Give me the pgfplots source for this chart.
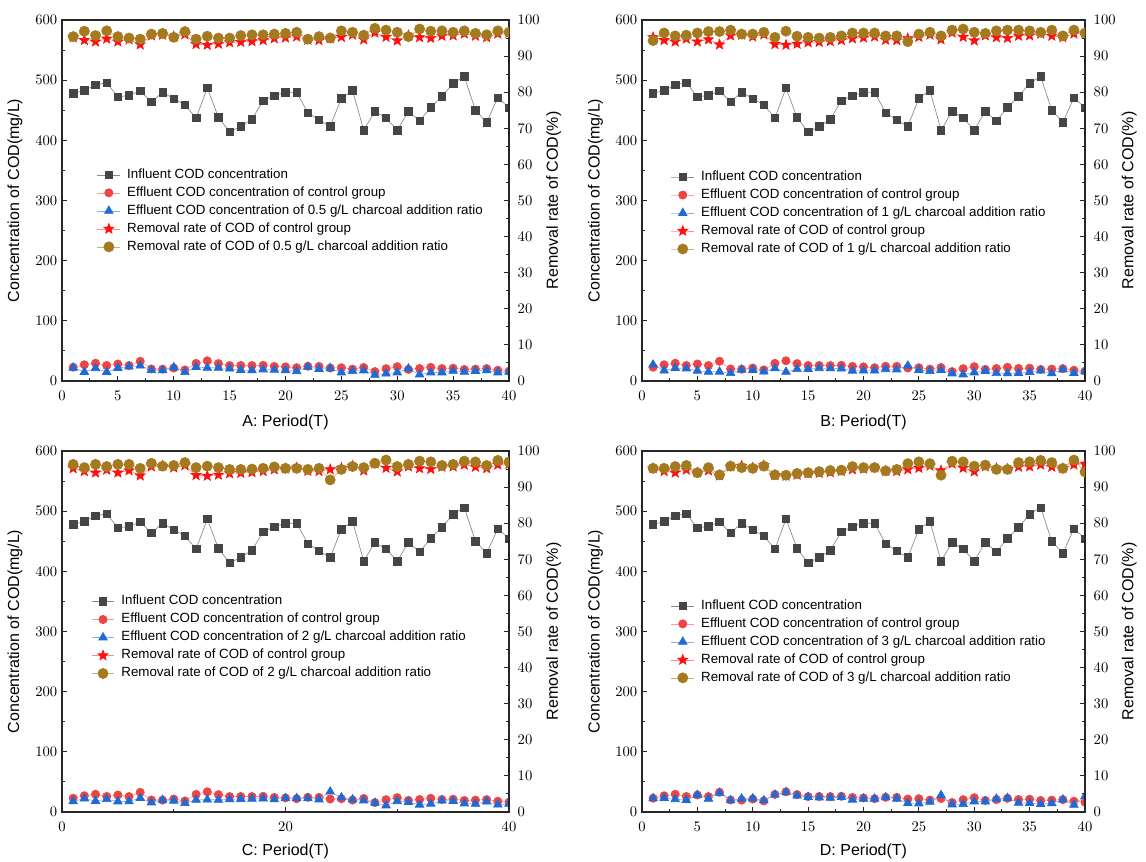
\documentclass[border=0pt]{standalone}
\usepackage{fontspec}
\setmainfont{Liberation Sans}
\usepackage{pgfplots}
\usepackage{pgfplotstable}
\pgfplotsset{compat=1.18}

% filled five-pointed star marker
\pgfdeclareplotmark{fstar}{%
  \pgfpathmoveto{\pgfpointpolar{90}{\pgfplotmarksize}}%
  \pgfpathlineto{\pgfpointpolar{126}{0.42\pgfplotmarksize}}%
  \pgfpathlineto{\pgfpointpolar{162}{\pgfplotmarksize}}%
  \pgfpathlineto{\pgfpointpolar{198}{0.42\pgfplotmarksize}}%
  \pgfpathlineto{\pgfpointpolar{234}{\pgfplotmarksize}}%
  \pgfpathlineto{\pgfpointpolar{270}{0.42\pgfplotmarksize}}%
  \pgfpathlineto{\pgfpointpolar{306}{\pgfplotmarksize}}%
  \pgfpathlineto{\pgfpointpolar{342}{0.42\pgfplotmarksize}}%
  \pgfpathlineto{\pgfpointpolar{18}{\pgfplotmarksize}}%
  \pgfpathlineto{\pgfpointpolar{54}{0.42\pgfplotmarksize}}%
  \pgfpathclose
  \pgfusepathqfillstroke
}

\definecolor{infmark}{HTML}{454545}
\definecolor{infline}{HTML}{8A8A8A}
\definecolor{ctlred}{HTML}{EE4444}
\definecolor{ctlredline}{HTML}{F4A0A0}
\definecolor{chblue}{HTML}{1F6AD4}
\definecolor{chblueline}{HTML}{8AB0E8}
\definecolor{starred}{HTML}{FF1010}
\definecolor{starline}{HTML}{FF8A8A}
\definecolor{chbrown}{HTML}{A57A1E}
\definecolor{chbrownline}{HTML}{CDB070}

% x: period, inf: influent COD, effc/remc: control group,
% effA..effD / remA..remD: 0.5, 1, 2 and 3 g/L charcoal addition
\pgfplotstableread{
x  inf  effc  remc  effA  remA  effB  remB  effC  remC  effD  remD
1  478  22.9  95.2  22.0  95.4  27.2  94.3  17.7  96.3  22.9  95.2
2  483  27.0  94.4  15.0  96.9  17.4  96.4  22.2  95.4  23.2  95.2
3  492  29.5  94.0  21.2  95.7  21.6  95.6  18.2  96.3  21.2  95.7
4  496  25.8  94.8  14.9  97.0  20.8  95.8  21.3  95.7  19.8  96.0
5  472  28.3  94.0  21.7  95.4  17.0  96.4  17.5  96.3  28.3  94.0
6  475  25.7  94.6  23.8  95.0  15.2  96.8  17.6  96.3  21.9  95.4
7  482  32.8  93.2  25.5  94.7  15.4  96.8  23.1  95.2  31.8  93.4
8  464  20.0  95.7  18.1  96.1  13.0  97.2  15.8  96.6  19.5  95.8
9  480  19.7  95.9  17.8  96.3  18.7  96.1  20.2  95.8  22.1  95.4
10 469  21.6  95.4  22.5  95.2  18.3  96.1  18.8  96.0  22.5  95.2
11 459  18.4  96.0  14.7  96.8  15.6  96.6  14.7  96.8  19.3  95.8
12 437  29.3  93.3  23.2  94.7  21.0  95.2  20.1  95.4  28.8  93.4
13 487  33.6  93.1  21.9  95.5  15.1  96.9  20.5  95.8  32.6  93.3
14 438  28.9  93.4  21.9  95.0  19.7  95.5  20.1  95.4  27.2  93.8
15 414  25.7  93.8  20.7  95.0  19.9  95.2  21.1  94.9  24.8  94.0
16 423  25.8  93.9  18.2  95.7  21.2  95.0  21.6  94.9  24.1  94.3
17 435  25.7  94.1  17.8  95.9  20.9  95.2  21.8  95.0  23.5  94.6
18 466  26.1  94.4  19.1  95.9  20.5  95.6  22.4  95.2  24.7  94.7
19 474  24.2  94.9  18.5  96.1  17.1  96.4  20.9  95.6  20.4  95.7
20 480  23.5  95.1  17.8  96.3  17.3  96.4  23.0  95.2  22.1  95.4
21 480  22.1  95.4  16.3  96.6  17.3  96.4  23.0  95.2  22.1  95.4
22 446  24.5  94.5  23.6  94.7  19.6  95.6  22.7  94.9  24.5  94.5
23 434  24.3  94.4  20.0  95.4  19.1  95.6  20.8  95.2  22.1  94.9
24 423  21.6  94.9  21.2  95.0  25.4  94.0  33.8  92.0  14.8  96.5
25 470  22.1  95.3  14.1  97.0  18.3  96.1  24.0  94.9  14.1  97.0
26 483  19.8  95.9  16.4  96.6  16.4  96.6  20.8  95.7  16.9  96.5
27 417  22.5  94.6  17.5  95.8  18.3  95.6  19.2  95.4  27.9  93.3
28 448  15.7  96.5  10.3  97.7  12.5  97.2  15.2  96.6  12.5  97.2
29 437  20.5  95.3  12.2  97.2  10.9  97.5  10.9  97.5  13.1  97.0
30 417  23.8  94.3  14.2  96.6  14.2  96.6  17.9  95.7  17.5  95.8
31 448  19.3  95.7  20.6  95.4  16.6  96.3  16.6  96.3  17.5  96.1
32 432  20.7  95.2  10.8  97.5  13.0  97.0  12.1  97.2  22.0  94.9
33 455  22.8  95.0  14.1  96.9  12.7  97.2  13.7  97.0  23.2  94.9
34 473  20.8  95.6  14.2  97.0  13.2  97.2  18.9  96.0  15.1  96.8
35 495  21.3  95.7  16.8  96.6  14.9  97.0  18.3  96.3  14.9  97.0
36 506  19.2  96.2  15.2  97.0  17.2  96.6  14.2  97.2  13.2  97.4
37 450  19.8  95.6  16.7  96.3  12.6  97.2  13.5  97.0  14.4  96.8
38 430  20.6  95.2  17.6  95.9  18.9  95.6  17.2  96.0  20.6  95.2
39 471  17.9  96.2  14.1  97.0  13.2  97.2  12.2  97.4  11.8  97.5
40 454  16.3  96.4  15.4  96.6  16.3  96.4  13.6  97.0  26.3  94.2
}\datatab

\pgfplotsset{
  influent/.style={infline, line width=0.5pt, mark=square*, mark size=2.8pt,
    mark options={draw=infmark, fill=infmark, solid}},
  effctl/.style={ctlredline, line width=0.5pt, mark=*, mark size=3.1pt,
    mark options={draw=ctlred, fill=ctlred, solid}},
  effch/.style={chblueline, line width=0.5pt, mark=triangle*, mark size=3.7pt,
    mark options={draw=chblue, fill=chblue, solid}},
  remctl/.style={starline, line width=0.5pt, mark=fstar, mark size=4pt,
    mark options={draw=starred, fill=starred, solid}},
  remch/.style={chbrownline, line width=0.5pt, mark=*, mark size=3.8pt,
    mark options={draw=chbrown, fill=chbrown, solid}},
  panel/.style={scale only axis, anchor=south west, height=270.75pt,
    xmin=0, xmax=40, clip marker paths=true,
    axis line style={line width=0.8pt, black!85},
    tick style={line width=0.7pt, black!85},
    major tick length=4pt, minor tick length=2.5pt, tick align=inside,
    tick label style={font=\fontsize{11}{13}\selectfont},
    xticklabel style={yshift=-4pt},
    label style={font=\fontsize{12}{14}\selectfont}},
  leftax/.style={panel, ymin=0, ymax=600, ytick={0,100,...,600},
    minor y tick num=1, xtick pos=bottom, ytick pos=left,
    ylabel={Concentration of COD(mg/L)},
    ylabel style={at={(axis description cs:-0.105,0.5)}, anchor=center}},
  rightax/.style={panel, ymin=0, ymax=100, ytick={0,10,...,100},
    minor y tick num=1, axis y line*=right, axis x line=none,
    yticklabel style={xshift=3pt},
    ylabel={Removal rate of COD(\%)},
    ylabel style={at={(axis description cs:1.1,0.5)}, anchor=center},
    legend cell align=left,
    legend style={draw=none, fill=none, inner sep=0pt, column sep=4pt,
      font=\fontsize{10}{12}\selectfont, anchor=north west, row sep=1.5pt,
      nodes={inner sep=1pt, text height=7.5pt, text depth=2.5pt}}},
}

\begin{document}
\begin{tikzpicture}
\useasboundingbox (0,0) rectangle (859.5pt,-645.75pt);

% ---------------- A: 0.5 g/L ----------------
\begin{axis}[leftax, at={(46.5pt,-285.75pt)}, width=335.25pt,
  xtick={0,5,...,40}, minor x tick num=1, xlabel={A: Period(T)},
  xlabel style={at={(axis description cs:0.5,-0.114)}, anchor=center}]
\addplot[influent] table[x=x,y=inf]{\datatab};
\addplot[effctl] table[x=x,y=effc]{\datatab};
\addplot[effch] table[x=x,y=effA]{\datatab};
\end{axis}
\begin{axis}[rightax, at={(46.5pt,-285.75pt)}, width=335.25pt,
  legend style={at={(0.078,0.594)}}]
\addlegendimage{influent}\addlegendentry{Influent COD concentration}
\addlegendimage{effctl}\addlegendentry{Effluent COD concentration of control group}
\addlegendimage{effch}\addlegendentry{Effluent COD concentration of 0.5 g/L charcoal addition ratio}
\addplot[remctl] table[x=x,y=remc]{\datatab};
\addlegendentry{Removal rate of COD of control group}
\addplot[remch] table[x=x,y=remA]{\datatab};
\addlegendentry{Removal rate of COD of 0.5 g/L charcoal addition ratio}
\end{axis}

% ---------------- B: 1 g/L ----------------
\begin{axis}[leftax, at={(481.5pt,-285.75pt)}, width=332.25pt,
  xtick={0,5,...,40}, minor x tick num=1, xlabel={B: Period(T)},
  xlabel style={at={(axis description cs:0.5,-0.114)}, anchor=center}]
\addplot[influent] table[x=x,y=inf]{\datatab};
\addplot[effctl] table[x=x,y=effc]{\datatab};
\addplot[effch] table[x=x,y=effB]{\datatab};
\end{axis}
\begin{axis}[rightax, at={(481.5pt,-285.75pt)}, width=332.25pt,
  legend style={at={(0.065,0.588)}}]
\addlegendimage{influent}\addlegendentry{Influent COD concentration}
\addlegendimage{effctl}\addlegendentry{Effluent COD concentration of control group}
\addlegendimage{effch}\addlegendentry{Effluent COD concentration of 1 g/L charcoal addition ratio}
\addplot[remctl] table[x=x,y=remc]{\datatab};
\addlegendentry{Removal rate of COD of control group}
\addplot[remch] table[x=x,y=remB]{\datatab};
\addlegendentry{Removal rate of COD of 1 g/L charcoal addition ratio}
\end{axis}

% ---------------- C: 2 g/L ----------------
\begin{axis}[leftax, at={(46.5pt,-609pt)}, width=335.25pt,
  xtick={0,20,40}, minor x tick num=1, xlabel={C: Period(T)},
  xlabel style={at={(axis description cs:0.5,-0.108)}, anchor=center}]
\addplot[influent] table[x=x,y=inf]{\datatab};
\addplot[effctl] table[x=x,y=effc]{\datatab};
\addplot[effch] table[x=x,y=effC]{\datatab};
\end{axis}
\begin{axis}[rightax, at={(46.5pt,-609pt)}, width=335.25pt,
  legend style={at={(0.065,0.606)}}]
\addlegendimage{influent}\addlegendentry{Influent COD concentration}
\addlegendimage{effctl}\addlegendentry{Effluent COD concentration of control group}
\addlegendimage{effch}\addlegendentry{Effluent COD concentration of 2 g/L charcoal addition ratio}
\addplot[remctl] table[x=x,y=remc]{\datatab};
\addlegendentry{Removal rate of COD of control group}
\addplot[remch] table[x=x,y=remC]{\datatab};
\addlegendentry{Removal rate of COD of 2 g/L charcoal addition ratio}
\end{axis}

% ---------------- D: 3 g/L ----------------
\begin{axis}[leftax, at={(481.5pt,-609pt)}, width=332.25pt,
  xtick={0,5,...,40}, minor x tick num=1, xlabel={D: Period(T)},
  xlabel style={at={(axis description cs:0.5,-0.108)}, anchor=center}]
\addplot[influent] table[x=x,y=inf]{\datatab};
\addplot[effctl] table[x=x,y=effc]{\datatab};
\addplot[effch] table[x=x,y=effD]{\datatab};
\end{axis}
\begin{axis}[rightax, at={(481.5pt,-609pt)}, width=332.25pt,
  legend style={at={(0.065,0.594)}}]
\addlegendimage{influent}\addlegendentry{Influent COD concentration}
\addlegendimage{effctl}\addlegendentry{Effluent COD concentration of control group}
\addlegendimage{effch}\addlegendentry{Effluent COD concentration of 3 g/L charcoal addition ratio}
\addplot[remctl] table[x=x,y=remc]{\datatab};
\addlegendentry{Removal rate of COD of control group}
\addplot[remch] table[x=x,y=remD]{\datatab};
\addlegendentry{Removal rate of COD of 3 g/L charcoal addition ratio}
\end{axis}
\end{tikzpicture}
\end{document}
